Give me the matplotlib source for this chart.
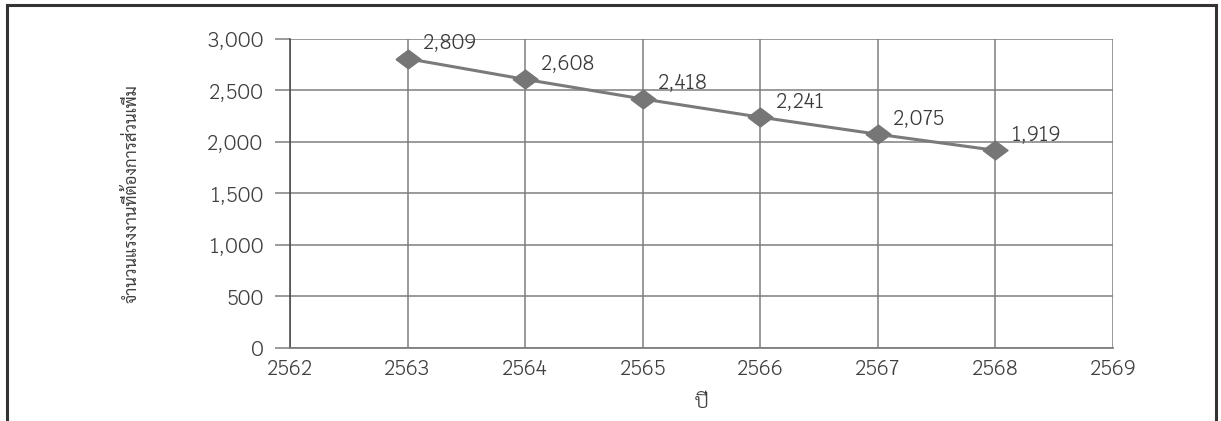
import matplotlib
matplotlib.use("Agg")
import matplotlib.pyplot as plt
from matplotlib.lines import Line2D
from matplotlib.ticker import FuncFormatter

plt.rcParams['font.family'] = ['Krub', 'Sarabun', 'DejaVu Sans']

years = [2563, 2564, 2565, 2566, 2567, 2568]
workers = [2809, 2608, 2418, 2241, 2075, 1919]
x_ticks = [2562, 2563, 2564, 2565, 2566, 2567, 2568, 2569]
y_ticks = [0, 500, 1000, 1500, 2000, 2500, 3000]

# slightly flattened diamond like the original
diamond = [(-1, 0), (0, 0.75), (1, 0), (0, -0.75), (-1, 0)]

fig = plt.figure(figsize=(12.21, 4.21), dpi=100)
ax = fig.add_axes([0.2375, 0.1734, 0.674, 0.734])

ax.plot(years, workers, color='#7a7a7a', lw=2.2, marker=diamond, markersize=18,
        markerfacecolor='#767676', markeredgecolor='#767676', zorder=3)
for x, y in zip(years, workers):
    ax.annotate(f'{y:,}', (x, y), xytext=(11, 4), textcoords='offset points',
                fontsize=15, color='#3a3a3a', ha='left', va='bottom')

ax.set_xlim(2562, 2569)
ax.set_ylim(0, 3000)
ax.set_xticks(x_ticks)
ax.set_yticks(y_ticks)
ax.yaxis.set_major_formatter(FuncFormatter(lambda v, p: f'{int(v):,}'))
ax.grid(True, color='#7f7f7f', lw=1.1)
ax.set_axisbelow(True)
ax.tick_params(axis='y', length=11, width=1.1, color='#7f7f7f', pad=8,
               labelsize=15, labelcolor='#404040')
ax.tick_params(axis='x', length=0, pad=7, labelsize=15, labelcolor='#404040')
for s in ['top', 'right']:
    ax.spines[s].set_visible(False)
ax.spines['left'].set_color('#444444')
ax.spines['bottom'].set_color('#7f7f7f')
ax.spines['left'].set_linewidth(1.1)
ax.spines['bottom'].set_linewidth(1.3)

ax.set_xlabel('ปี', fontsize=15, color='#404040', labelpad=9)
ax.set_ylabel('จำนวนแรงงานที่ต้องการส่วนเพิ่ม', family=['Sarabun', 'DejaVu Sans'],
              fontsize=12, color='#404040', labelpad=48)

# page frame around the chart
fig.add_artist(Line2D([0.006, 0.006], [0, 0.988], color='#333333', lw=2.2))
fig.add_artist(Line2D([0.996, 0.996], [0, 0.988], color='#333333', lw=2.2))
fig.add_artist(Line2D([0.006, 0.996], [0.988, 0.988], color='#333333', lw=2.2))

fig.savefig('out.png', dpi=100)
